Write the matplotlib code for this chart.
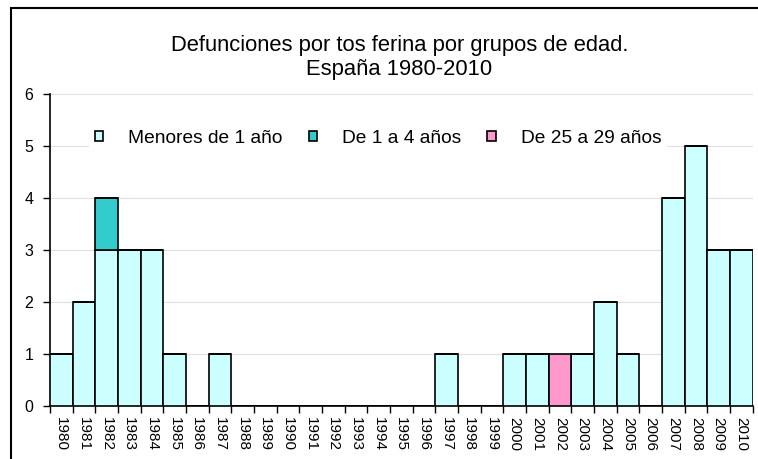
import matplotlib.pyplot as plt
from matplotlib.patches import Rectangle
import numpy as np

plt.rcParams['font.family'] = ['Liberation Sans', 'DejaVu Sans']

# Datos
years = [str(y) for y in range(1980, 2011)]
menores_1 = [1, 2, 3, 3, 3, 1, 0, 1, 0, 0, 0, 0, 0, 0, 0, 0, 0, 1, 0, 0,
             1, 1, 0, 1, 2, 1, 0, 4, 5, 3, 3]
de_1_a_4 = [0, 0, 1, 0, 0, 0, 0, 0, 0, 0, 0, 0, 0, 0, 0, 0, 0, 0, 0, 0,
            0, 0, 0, 0, 0, 0, 0, 0, 0, 0, 0]
de_25_a_29 = [0, 0, 0, 0, 0, 0, 0, 0, 0, 0, 0, 0, 0, 0, 0, 0, 0, 0, 0, 0,
              0, 0, 1, 0, 0, 0, 0, 0, 0, 0, 0]

fig = plt.figure(figsize=(7.58, 4.59), dpi=100)
ax = fig.add_axes([0.066, 0.1155, 0.927, 0.6795])

x = np.arange(len(years))
m1 = np.array(menores_1)
m2 = np.array(de_1_a_4)
m3 = np.array(de_25_a_29)

ax.bar(x, m1, width=1.0, color='#CCFFFF', edgecolor='black', linewidth=1.2,
       label='Menores de 1 año', zorder=3)
ax.bar(x, m2, width=1.0, bottom=m1, color='#33CCCC', edgecolor='black',
       linewidth=1.2, label='De 1 a 4 años', zorder=3)
ax.bar(x, m3, width=1.0, bottom=m1 + m2, color='#FF99CC', edgecolor='black',
       linewidth=1.2, label='De 25 a 29 años', zorder=3)

ax.set_xlim(-0.5, len(years) - 0.5)
ax.set_ylim(0, 6)
ax.set_yticks(range(0, 7))
ax.set_xticks(x)
ax.set_xticklabels(years, rotation=-90, fontsize=11)
ax.set_xticks(np.arange(-0.5, len(years)), minor=True)
ax.tick_params(axis='x', which='major', length=0, pad=8)
ax.tick_params(axis='x', which='minor', length=5, direction='out', width=1)
ax.tick_params(axis='y', labelsize=11.5, length=5, width=1, pad=7)
ax.grid(axis='y', color='#e0e0e0', linewidth=0.8, zorder=0)

for s in ['top', 'right']:
    ax.spines[s].set_visible(False)
ax.spines['left'].set_linewidth(1.2)
ax.spines['bottom'].set_linewidth(1.2)

leg = ax.legend(loc='center', bbox_to_anchor=(0.467, 0.859), ncol=3, frameon=True,
                fontsize=13.8, handlelength=0.45, handleheight=0.45,
                columnspacing=1.35, handletextpad=1.3, fancybox=False,
                borderpad=0.3)
leg.get_frame().set_edgecolor('none')
leg.get_frame().set_facecolor('white')
leg.get_frame().set_alpha(1)

fig.text(0.527, 0.875, 'Defunciones por tos ferina por grupos de edad.\nEspaña 1980-2010',
         ha='center', va='center', fontsize=15.8, linespacing=1.2)

# Marco del gráfico
fig.patches.append(Rectangle((0.014, -0.05), 1.05, 1.032, transform=fig.transFigure,
                             fill=False, edgecolor='black', linewidth=1.5))

fig.savefig('out.png', dpi=100)
